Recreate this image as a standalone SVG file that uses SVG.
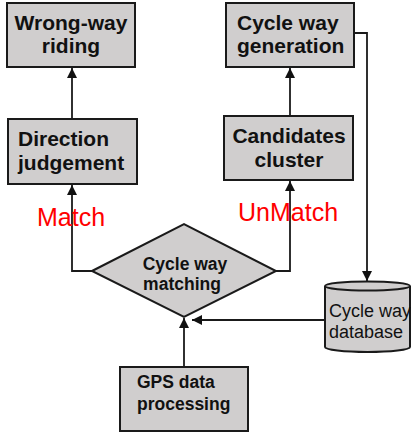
<svg xmlns="http://www.w3.org/2000/svg" width="411" height="434" viewBox="0 0 411 434">
<defs>
<marker id="arr" markerUnits="userSpaceOnUse" markerWidth="10" markerHeight="12" refX="10" refY="5" orient="auto">
<path d="M0,0 L10,5 L0,10 Z" fill="#111"/>
</marker>
<style>
.box{fill:#d0cece;stroke:#1a1a1a;stroke-width:2}
.t{font-family:"Liberation Sans",Arial,sans-serif;font-weight:bold;font-size:21px;fill:#111}
.ts{font-family:"Liberation Sans",Arial,sans-serif;font-weight:bold;font-size:17.5px;fill:#111}
.tn{font-family:"Liberation Sans",Arial,sans-serif;font-size:18px;fill:#111}
.lbl{font-family:"Liberation Sans",Arial,sans-serif;font-size:25px;fill:#ff0000}
.c{fill:none;stroke:#1a1a1a;stroke-width:1.8;marker-end:url(#arr)}
</style>
</defs>
<rect width="411" height="434" fill="#fff"/>
<g id="connectors">
<path class="c" d="M72,119 V68"/>
<path class="c" d="M290,116 V68"/>
<path class="c" d="M92,271 H72 V185"/>
<path class="c" d="M276,271 H290 V181"/>
<path class="c" d="M354,33 H367 V281"/>
<path class="c" d="M325,320 H192"/>
<path class="c" d="M184,367 V318"/>
</g>
<g id="wrong-way">
<rect class="box" x="7" y="3" width="128" height="64"/>
<text class="t" x="71" y="30" text-anchor="middle">Wrong-way</text>
<text class="t" x="71" y="53" text-anchor="middle">riding</text>
</g>
<g id="direction">
<rect class="box" x="8" y="119" width="129" height="65"/>
<text class="t" x="18" y="146">Direction</text>
<text class="t" x="18" y="170">judgement</text>
</g>
<g id="generation">
<rect class="box" x="226" y="3" width="128" height="64"/>
<text class="t" x="237" y="30">Cycle way</text>
<text class="t" x="237" y="53">generation</text>
</g>
<g id="candidates">
<rect class="box" x="224" y="116" width="129" height="64"/>
<text class="t" x="289" y="143" text-anchor="middle">Candidates</text>
<text class="t" x="289" y="167" text-anchor="middle">cluster</text>
</g>
<g id="matching">
<path class="box" d="M92,271 L184,224 L276,271 L184,317 Z"/>
<text class="ts" x="185" y="270" text-anchor="middle">Cycle way</text>
<text class="ts" x="182" y="290" text-anchor="middle">matching</text>
</g>
<g id="database">
<path class="box" d="M325,286 V347 A42.5,5 0 0 0 410,347 V286"/>
<ellipse class="box" cx="367.5" cy="286" rx="42.5" ry="4.5"/>
<text class="tn" x="329" y="317">Cycle way</text>
<text class="tn" x="329" y="338">database</text>
</g>
<g id="gps">
<rect class="box" x="120" y="367" width="128" height="64"/>
<text class="ts" x="137" y="388">GPS data</text>
<text class="ts" x="137" y="410">processing</text>
</g>
<g id="labels">
<text class="lbl" x="37" y="226">Match</text>
<text class="lbl" x="238" y="221">UnMatch</text>
</g>
</svg>
